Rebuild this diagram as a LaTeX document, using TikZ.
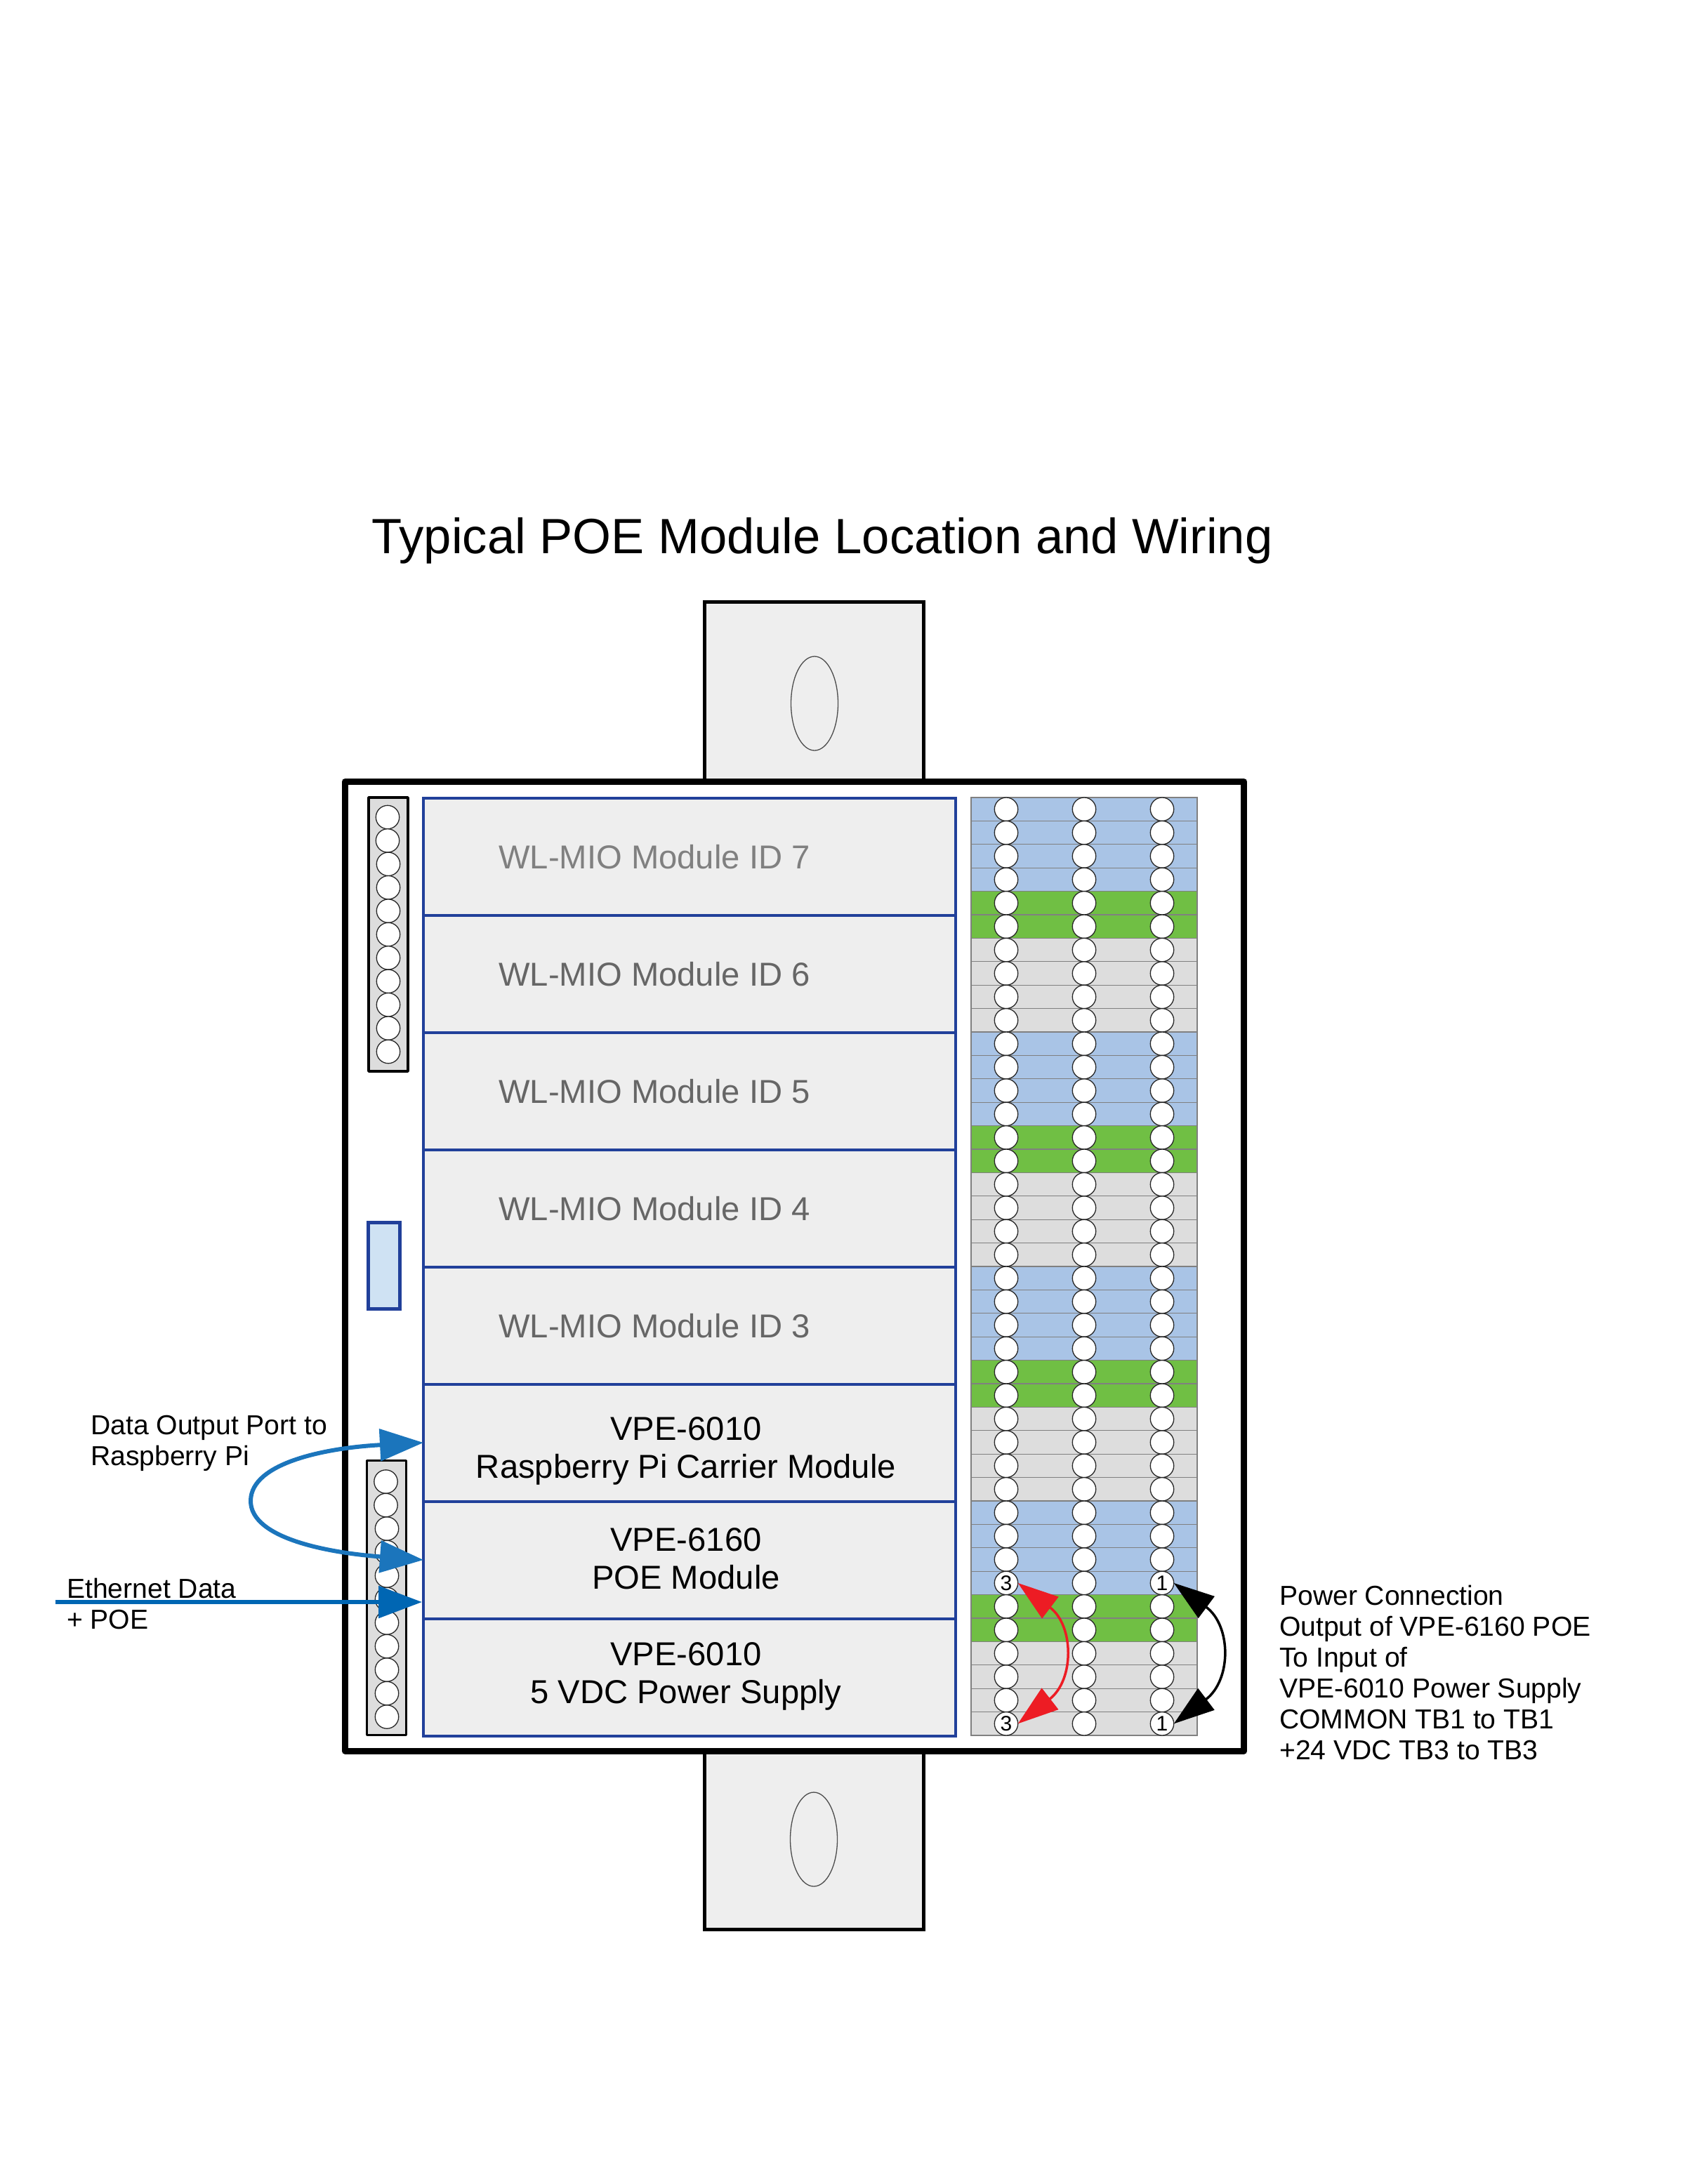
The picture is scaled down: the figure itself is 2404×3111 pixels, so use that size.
\documentclass[tikz,border=0pt]{standalone}
\usepackage{fontspec}
\setmainfont{Liberation Sans}
\usetikzlibrary{arrows.meta}
\definecolor{panel}{HTML}{EEEEEE}
\definecolor{rowblue}{HTML}{A9C4E6}
\definecolor{rowgreen}{HTML}{70BF44}
\definecolor{rowgray}{HTML}{DDDDDD}
\definecolor{modblue}{HTML}{21409A}
\definecolor{wirea}{HTML}{1B75BC}
\definecolor{wireb}{HTML}{0066B3}
\definecolor{wirered}{HTML}{ED1C24}
\definecolor{portfill}{HTML}{CFE2F3}
\newcommand{\px}[1]{\fontsize{#1}{#1}\selectfont}
\tikzset{
  x=1pt,y=-1pt,
  tabbox/.style={draw=black,line width=5pt,fill=panel},
  hole/.style={draw=black!70,line width=1.3pt,fill=panel},
  modbox/.style={draw=modblue,line width=4pt,fill=panel,minimum width=758pt,minimum height=167pt,inner sep=0pt,outer sep=0pt,anchor=north west},
  modtext/.style={font=\px{47.2},align=center,inner sep=0pt},
  conn/.style={draw=black,line width=3.5pt,fill=rowgray,line join=round,outer sep=0pt},
  pinc/.style={circle,draw=black!85,line width=1.3pt,fill=white,minimum size=33.4pt,inner sep=0pt,outer sep=0pt,font=\px{30}},
  note/.style={font=\fontsize{39.1}{44}\selectfont,align=left,inner sep=0pt,anchor=west},
  wireA/.style={draw=wirea,line width=6pt,{Triangle[length=62pt,width=45pt,fill=wirea]}-{Triangle[length=62pt,width=45pt,fill=wirea]}},
  wireB/.style={draw=wireb,line width=6pt,-{Triangle[length=62pt,width=45pt,fill=wireb]}},
  jumpred/.style={draw=wirered,line width=3.5pt,{Triangle[length=58pt,width=38pt]}-{Triangle[length=58pt,width=38pt]}},
  jumpblk/.style={draw=black,line width=3.5pt,{Triangle[length=58pt,width=38pt]}-{Triangle[length=58pt,width=38pt]}}
}
\begin{document}
\begin{tikzpicture}
\useasboundingbox[fill=white] (0,0) rectangle (2404,3111);
% title
\node[font=\px{70.6},inner sep=0pt] (title) at (1171,770) {Typical POE Module Location and Wiring};
% mounting tabs
\draw[tabbox] (1003,857) rectangle (1315,1114);
\draw[hole] (1160,1002) ellipse [x radius=33.5,y radius=67];
\draw[tabbox] (1003,2494) rectangle (1315,2748);
\draw[hole] (1159,2620) ellipse [x radius=33.5,y radius=67];
% frame
\draw[draw=black,line width=9pt,fill=white,line join=round] (491.5,1113.5) rectangle (1771.5,2494);
% left connectors
\node[conn,minimum width=56pt,minimum height=390pt,inner sep=0pt] (topconn) at (553,1331) {};
\foreach \i in {0,...,10}{
  \pgfmathsetmacro\cy{1164+33.4*\i}
  \ifnum\i<2 \def\cx{552}\else\def\cx{553}\fi
  \node[pinc] (tc\i) at (\cx,\cy) {};
}
\node[conn,minimum width=56pt,minimum height=391pt,inner sep=0pt] (botconn) at (550.5,2276) {};
\foreach \i in {0,...,10}{
  \pgfmathsetmacro\cy{2110.5+33.5*\i}
  \ifnum\i<2 \def\cx{549.5}\else\def\cx{551}\fi
  \node[pinc] (bc\i) at (\cx,\cy) {};
}
% small port
\node[draw=modblue,line width=5pt,fill=portfill,minimum width=45pt,minimum height=123pt,inner sep=0pt,outer sep=0pt] (port) at (546.5,1803) {};
% modules
\foreach \i in {0,...,7}{
  \pgfmathsetmacro\my{1136.5+167*\i}
  \node[modbox] (mod\i) at (603,\my) {};
}
\node[modtext,text=black!50] (l0) at (932,1221) {WL-MIO Module ID 7};
\node[modtext,text=black!60] (l1) at (932,1388) {WL-MIO Module ID 6};
\node[modtext,text=black!60] (l2) at (932,1555) {WL-MIO Module ID 5};
\node[modtext,text=black!60] (l3) at (932,1722) {WL-MIO Module ID 4};
\node[modtext,text=black!60] (l4) at (932,1889) {WL-MIO Module ID 3};
\node[modtext] (l5) at (977,2067) {VPE-6010\\[7pt]Raspberry Pi Carrier Module};
\node[modtext] (l6) at (977,2220) {VPE-6160\\[7pt]POE Module};
\node[modtext] (l7) at (977,2388) {VPE-6010\\[7pt]5 VDC Power Supply};
% terminal rows
\foreach \r in {0,...,39}{
  \pgfmathtruncatemacro\m{mod(\r,10)}
  \ifnum\m<4 \def\rc{rowblue}\else\ifnum\m<6 \def\rc{rowgreen}\else\def\rc{rowgray}\fi\fi
  \pgfmathsetmacro\ry{1136+33.4*\r}
  \pgfmathsetmacro\rz{1136+33.4*(\r+1)}
  \draw[draw=black!50,line width=1.3pt,fill=\rc] (1383,\ry) rectangle (1705,\rz);
}
\foreach \r in {0,...,39}{
  \pgfmathsetmacro\ry{1136+33.4*(\r+0.5)}
  \def\ta{}\def\tc{}
  \ifnum\r=33 \def\ta{3}\def\tc{1}\fi
  \ifnum\r=39 \def\ta{3}\def\tc{1}\fi
  \node[pinc] (pa\r) at (1433,\ry) {\ta};
  \node[pinc] (pb\r) at (1544,\ry) {};
  \node[pinc] (pc\r) at (1655,\ry) {\tc};
}
% jumpers
\draw[jumpred] (pa33.east) .. controls (1530,2316) and (1530,2393) .. (pa39.east);
\draw[jumpblk] (pc33.east) .. controls (1754,2316) and (1754,2393) .. (pc39.east);
% blue wires
\coordinate (ethin) at (79,2282);
\coordinate (ethout) at (601,2282);
\coordinate (loopleft) at (357,2138);
\draw[wireA] (mod5.west) .. controls (470,2062) and (357,2082) .. (loopleft) .. controls (357,2192) and (470,2212) .. (mod6.west);
\draw[wireB] (ethin) -- (ethout);
% notes
\node[note] (n1) at (129,2056) {Data Output Port to\\Raspberry Pi};
\node[note] (n2) at (95,2284) {Ethernet Data\\+ POE};
\node[note] (n3) at (1822,2382) {Power Connection\\Output of VPE-6160 POE\\To Input of\\VPE-6010 Power Supply\\COMMON TB1 to TB1\\+24 VDC TB3 to TB3};
\end{tikzpicture}
\end{document}
